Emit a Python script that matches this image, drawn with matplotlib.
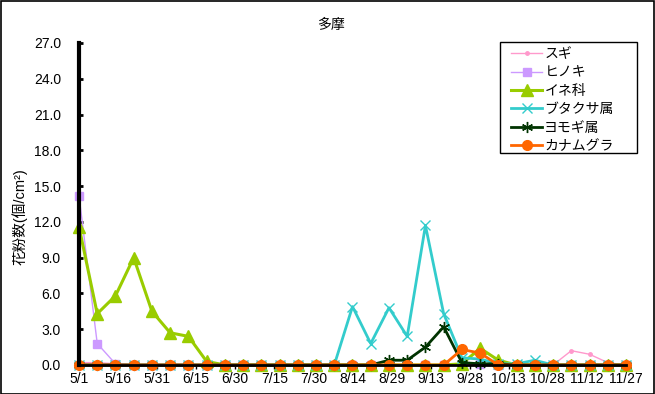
import numpy as np
import pandas as pd
import matplotlib
matplotlib.use('Agg')
import matplotlib.pyplot as plt
from matplotlib.patches import Rectangle

plt.rcParams['font.family'] = ['Liberation Sans', 'Noto Sans CJK JP', 'DejaVu Sans']

# weekly sampling dates
dates = ["5/1", "5/8", "5/15", "5/22", "5/29", "6/5", "6/12", "6/19", "6/26",
         "7/3", "7/10", "7/17", "7/24", "7/31", "8/7", "8/14", "8/21", "8/28",
         "9/4", "9/11", "9/18", "9/25", "10/2", "10/9", "10/16", "10/23",
         "10/30", "11/6", "11/13", "11/20", "11/27"]
tick_dates = ["5/1", "5/16", "5/31", "6/15", "6/30", "7/15", "7/30", "8/14",
              "8/29", "9/13", "9/28", "10/13", "10/28", "11/12", "11/27"]

sugi = [0.2, 0.2, 0.1, 0, 0, 0, 0, 0, 0, 0, 0, 0, 0, 0, 0, 0, 0, 0, 0, 0,
        0, 0, 0, 0, 0, 0, 0, 1.2, 0.9, 0.2, 0.0]
hinoki = [14.2, 1.8, 0.1, 0, 0, 0, 0, 0, 0, 0, 0, 0, 0, 0, 0, 0, 0, 0, 0, 0,
          0, 0.1, 0.1, 0, 0, 0, 0, 0, 0, 0, 0]
ine = [11.6, 4.3, 5.8, 9.0, 4.5, 2.7, 2.4, 0.3, 0, 0, 0, 0, 0, 0, 0, 0, 0, 0,
       0, 0, 0, 0.1, 1.4, 0.4, 0, 0, 0, 0, 0, 0, 0]
butakusa = [0, 0, 0, 0, 0, 0, 0, 0, 0, 0, 0, 0, 0, 0, 0, 4.9, 1.8, 4.8, 2.4,
            11.7, 4.3, 0.6, 0.5, 0.1, 0.1, 0.4, 0, 0, 0, 0, 0]
yomogi = [0, 0, 0, 0, 0, 0, 0, 0, 0, 0, 0, 0, 0, 0, 0, 0, 0, 0.4, 0.4, 1.5,
          3.2, 0.2, 0.1, 0.1, 0, 0, 0, 0, 0, 0, 0]
kanamugura = [0, 0, 0, 0, 0, 0, 0, 0, 0, 0, 0, 0, 0, 0, 0, 0, 0, 0, 0, 0,
              0, 1.3, 1.0, 0, 0, 0, 0, 0, 0, 0, 0]

x = pd.to_datetime(['2000/' + d for d in dates])
xt = pd.to_datetime(['2000/' + d for d in tick_dates])

fig = plt.figure(figsize=(6.55, 3.94), dpi=100)
ax = fig.add_axes([79/655, 1-365/394, (626-79)/655, (365-43)/394])

ax.plot(x, sugi, '-', color='#FF99CC', lw=1, marker='o', ms=2.5,
        label='スギ', clip_on=False)
ax.plot(x, hinoki, '-', color='#CC99FF', lw=1, marker='s', ms=6,
        label='ヒノキ', clip_on=False)
ax.plot(x, ine, '-', color='#99CC00', lw=2.2, marker='^', ms=8.5,
        label='イネ科', clip_on=False)
ax.plot(x, butakusa, '-', color='#33CCCC', lw=2, marker='x', ms=7, mew=1,
        label='ブタクサ属', clip_on=False)
ax.plot(x, yomogi, '-', color='#003300', lw=2, marker=(6, 2, 0), ms=8, mew=1,
        label='ヨモギ属', clip_on=False)
ax.plot(x, kanamugura, '-', color='#FF6600', lw=2, marker='o', ms=7,
        label='カナムグラ', clip_on=False)

ax.set_xlim(x[0], x[-1])
ax.set_ylim(0, 27)
ax.set_yticks(np.arange(0, 27.1, 3))
ax.yaxis.set_major_formatter(matplotlib.ticker.FormatStrFormatter('%.1f'))
ax.set_xticks(xt)
ax.set_xticklabels(tick_dates)
ax.tick_params(axis='y', direction='in', length=3, width=2, pad=13, labelsize=10)
ax.tick_params(axis='x', direction='out', length=3, width=1, pad=2, labelsize=10)

for s in ['top', 'right']:
    ax.spines[s].set_visible(False)
ax.spines['left'].set_linewidth(3)
ax.spines['bottom'].set_linewidth(2)

fig.text(331/655, 1-25/394, '多摩', ha='center', va='center', fontsize=10)
fig.text(20/655, 1-217/394, '花粉数(個/cm²)', rotation=90,
         ha='center', va='center', fontsize=10.5)

# legend without its own frame; the box is drawn wider like the original
leg = ax.legend(loc='upper left', bbox_to_anchor=(511/655, 1-47/394),
                bbox_transform=fig.transFigure, frameon=False, fontsize=10,
                handlelength=2.25, handletextpad=0.15, labelspacing=0.32,
                borderpad=0, borderaxespad=0)
fig.patches.append(Rectangle((500/655, 1-153/394), 137/655, 111/394,
                             transform=fig.transFigure, fill=False,
                             edgecolor='black', lw=1))

fig.patches.append(Rectangle((0.0008, 0.001), 0.998, 0.997, transform=fig.transFigure,
                             fill=False, edgecolor='black', lw=1.2))

fig.savefig('out.png', dpi=100)
